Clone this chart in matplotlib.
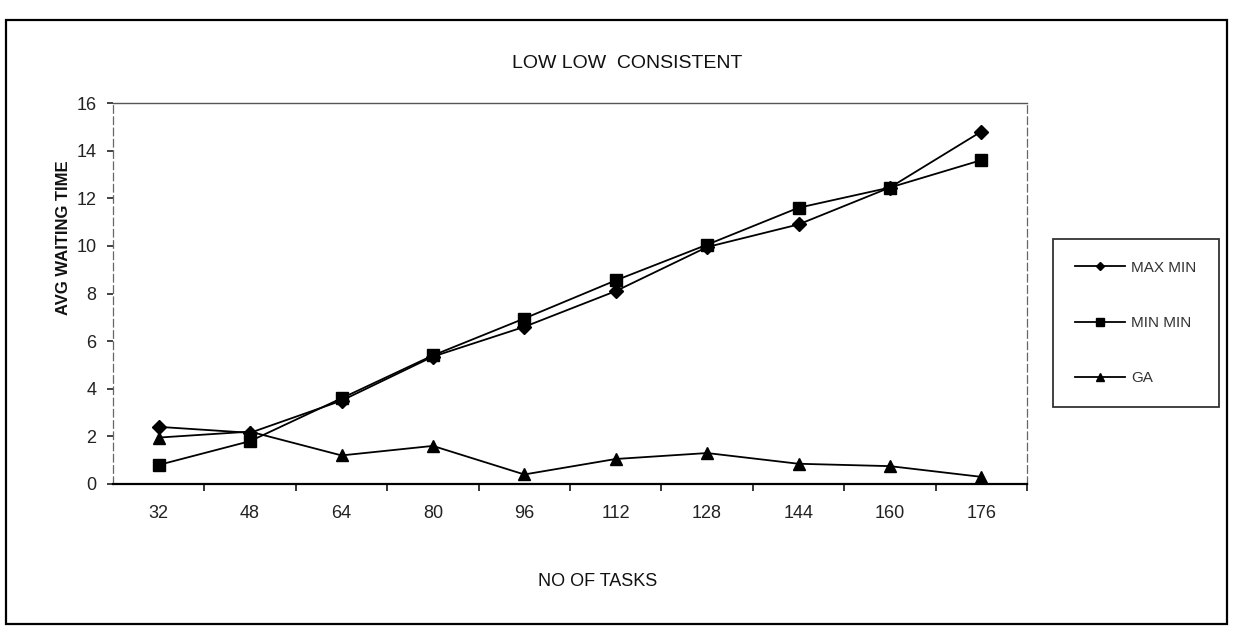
"""Avg waiting time vs number of tasks, LOW LOW CONSISTENT case.

Excel-style line chart redrawn from the scanned figure: three heuristics,
category x axis, plot area in a framed box, legend box on the right.
"""

import matplotlib
matplotlib.use("Agg")
import matplotlib.pyplot as plt
from matplotlib.patches import Rectangle
from matplotlib.ticker import FixedLocator

# values (corrected for its slight tilt)
TASKS = ["32", "48", "64", "80", "96", "112", "128", "144", "160", "176"]
MAX_MIN = [2.4, 2.15, 3.5, 5.35, 6.6, 8.1, 9.95, 10.9, 12.45, 14.8]
MIN_MIN = [0.8, 1.8, 3.6, 5.4, 6.95, 8.55, 10.05, 11.6, 12.45, 13.6]
GA = [1.95, 2.2, 1.2, 1.6, 0.4, 1.05, 1.3, 0.85, 0.75, 0.3]
Y_TICKS = [0, 2, 4, 6, 8, 10, 12, 14, 16]

W, H, DPI = 1241, 636, 100

plt.rcParams["font.family"] = ["Liberation Sans", "DejaVu Sans"]


def main():
    fig = plt.figure(figsize=(W / DPI, H / DPI), dpi=DPI)
    fig.patch.set_facecolor("white")

    # outer chart-area frame
    fig.patches.append(Rectangle((6 / W, 1 - 624 / H), 1221 / W, 604 / H,
                                 transform=fig.transFigure, fill=False,
                                 edgecolor="black", lw=1.6))

    ax = fig.add_axes([113 / W, 1 - 484 / H, 914 / W, 381 / H])
    x = list(range(len(TASKS)))

    ax.plot(x, MAX_MIN, color="black", lw=1.3, marker="D", ms=7,
            label="MAX MIN", zorder=3)
    ax.plot(x, MIN_MIN, color="black", lw=1.3, marker="s", ms=9,
            label="MIN MIN", zorder=3)
    ax.plot(x, GA, color="black", lw=1.3, marker="^", ms=9,
            label="GA", zorder=3)

    ax.set_xlim(-0.5, len(TASKS) - 0.5)
    ax.set_ylim(0, 16)
    ax.set_yticks(Y_TICKS)
    ax.set_xticks(x)
    ax.set_xticklabels(TASKS)
    ax.xaxis.set_minor_locator(FixedLocator([i + 0.5 for i in x]))

    ax.tick_params(axis="x", which="major", length=0, pad=15,
                   labelsize=13, colors="#222222")
    ax.tick_params(axis="x", which="minor", length=5, width=1.1,
                   direction="out", color="black")
    ax.tick_params(axis="y", length=4, width=1.2, direction="out",
                   pad=8, labelsize=13, colors="#222222")

    # plot-area border as it comes out of the scan
    ax.spines["bottom"].set_color("black")
    ax.spines["bottom"].set_linewidth(1.6)
    ax.spines["top"].set_color("#555555")
    ax.spines["top"].set_linewidth(1.0)
    for side in ("left", "right"):
        ax.spines[side].set_color("#666666")
        ax.spines[side].set_linewidth(0.9)
        ax.spines[side].set_linestyle((0, (6, 3)))

    fig.text(627 / W, 1 - 63 / H, "LOW LOW  CONSISTENT", ha="center",
             va="center", fontsize=14, color="#111111")
    fig.text(63 / W, 1 - 238 / H, "AVG WAITING TIME", rotation=90,
             ha="center", va="center", fontsize=12, fontweight="bold",
             color="#111111")
    fig.text(598 / W, 1 - 582 / H, "NO OF TASKS", ha="center",
             va="center", fontsize=13, color="#111111")

    leg = fig.legend(loc="upper left",
                     bbox_to_anchor=(1045 / W, 1 - 231 / H),
                     frameon=True, fancybox=False, edgecolor="black",
                     fontsize=11, markerscale=0.6, handlelength=3.3,
                     handletextpad=0.4, labelspacing=2.7, borderpad=1.45)
    leg.get_frame().set_linewidth(1.3)
    for t in leg.get_texts():
        t.set_color("#333333")

    fig.savefig("out.png", dpi=DPI, facecolor="white")


if __name__ == "__main__":
    main()
